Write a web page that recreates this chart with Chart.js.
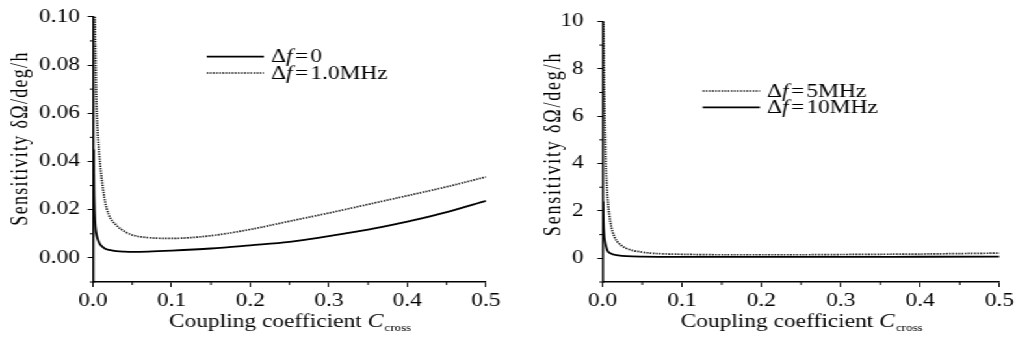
<!DOCTYPE html>
<html>
<head>
<meta charset="utf-8">
<script src="https://cdn.jsdelivr.net/npm/chart.js@4.4.1/dist/chart.umd.min.js"></script>
<style>
  html, body { margin: 0; padding: 0; background: #fff; overflow: hidden; }
  /* the source figure is stretched sideways, so draw narrow and widen */
  #wrap { position: absolute; left: 0; top: 0; width: 783px; height: 351px;
          display: flex; transform: scaleX(1.3001); transform-origin: 0 0; }
  canvas { display: block; }
</style>
</head>
<body>
<div id="wrap">
  <canvas id="left" width="392" height="351"></canvas>
  <canvas id="right" width="391" height="351"></canvas>
</div>
<script>
// coupling coefficient (x) and sensitivity (y)
const df0X = [0.0008, 0.001, 0.0015, 0.002, 0.003, 0.004, 0.006, 0.008, 0.01, 0.015, 0.02, 0.03, 0.04, 0.05, 0.07, 0.1, 0.15, 0.2, 0.25, 0.3, 0.35, 0.4, 0.45, 0.5];
const df0Y = [0.045, 0.036, 0.025, 0.019, 0.013, 0.0105, 0.0078, 0.0062, 0.0052, 0.0039, 0.0033, 0.0028, 0.0026, 0.0025, 0.0026, 0.0030, 0.0039, 0.0052, 0.0066, 0.0090, 0.0117, 0.0150, 0.0190, 0.0237];

const df1X = [0.0025, 0.003, 0.004, 0.006, 0.008, 0.01, 0.015, 0.02, 0.03, 0.04, 0.05, 0.07, 0.1, 0.15, 0.2, 0.25, 0.3, 0.35, 0.4, 0.45, 0.5];
const df1Y = [0.100, 0.088, 0.070, 0.052, 0.043, 0.036, 0.024, 0.018, 0.0135, 0.011, 0.0095, 0.0084, 0.0081, 0.0092, 0.0118, 0.0152, 0.0186, 0.0222, 0.0258, 0.0295, 0.0336];

const df5X = [0.0012, 0.002, 0.003, 0.004, 0.005, 0.007, 0.01, 0.015, 0.02, 0.03, 0.05, 0.075, 0.1, 0.15, 0.2, 0.25, 0.3, 0.35, 0.4, 0.45, 0.5];
const df5Y = [10, 7.5, 5.5, 4.2, 3.3, 2.3, 1.5, 0.9, 0.65, 0.42, 0.26, 0.19, 0.17, 0.15, 0.15, 0.15, 0.16, 0.17, 0.18, 0.2, 0.22];

const df10X = [0.0005, 0.001, 0.002, 0.003, 0.004, 0.006, 0.01, 0.015, 0.02, 0.03, 0.05, 0.1, 0.2, 0.3, 0.4, 0.5];
const df10Y = [2.4, 1.6, 0.95, 0.7, 0.55, 0.33, 0.21, 0.15, 0.12, 0.09, 0.07, 0.06, 0.06, 0.06, 0.065, 0.07];

const xTicks = [0, 0.1, 0.2, 0.3, 0.4, 0.5];
const leftYTicks = [0, 0.02, 0.04, 0.06, 0.08, 0.1];
const rightYTicks = [0, 2, 4, 6, 8, 10];

const yTitle = "Sensitivity δΩ/deg/h";
const serif = "'Liberation Serif', 'Times New Roman', serif";

function pts(xs, ys) {
    return xs.map((x, i) => ({ x: x, y: ys[i] }));
}

function solid(label, xs, ys) {
    return { label, data: pts(xs, ys), borderColor: "#000", borderWidth: 1.8,
             pointRadius: 0, cubicInterpolationMode: "monotone" };
}

function dotted(label, xs, ys) {
    return { label, data: pts(xs, ys), borderColor: "#111", borderWidth: 1.7,
             borderDash: [1.3, 1.1], pointRadius: 0, cubicInterpolationMode: "monotone" };
}

// draws "Δf=..." with an italic f and a little room round "="
function drawDelta(ctx, label, x, y) {
    const rest = label.split("=")[1];
    ctx.font = "18px " + serif;
    ctx.fillText("Δ", x, y);
    x += ctx.measureText("Δ").width;
    ctx.font = "italic 18px " + serif;
    ctx.fillText("f", x, y);
    x += ctx.measureText("f").width + 2;
    ctx.font = "18px " + serif;
    ctx.fillText("=", x, y);
    x += ctx.measureText("=").width + 1.5;
    ctx.fillText(rest, x, y);
}

const decor = {
    id: "decor",
    afterDraw(chart, args, o) {
        const ctx = chart.ctx, area = chart.chartArea;
        const xs = chart.scales.x, ys = chart.scales.y;
        ctx.save();
        ctx.strokeStyle = "#000";
        ctx.fillStyle = "#000";
        ctx.lineWidth = 1;

        // minor ticks halfway between the labelled ones
        ctx.beginPath();
        for (let i = 0; i < xTicks.length - 1; i++) {
            const px = xs.getPixelForValue((xTicks[i] + xTicks[i + 1]) / 2);
            ctx.moveTo(px, area.bottom);
            ctx.lineTo(px, area.bottom + 3);
        }
        const yt = o.yTicks;
        const step = yt[1] - yt[0];
        for (let i = -1; i < yt.length - 1; i++) {
            const py = ys.getPixelForValue(yt[0] + (i + 0.5) * step);
            ctx.moveTo(area.left, py);
            ctx.lineTo(area.left - 2.5, py);
        }
        ctx.stroke();

        // y axis title
        ctx.save();
        ctx.translate(o.yTitleX, o.yTitleY);
        ctx.rotate(-Math.PI / 2);
        ctx.font = "18px " + serif;
        ctx.letterSpacing = o.ySpacing + "px";
        ctx.textAlign = "center";
        ctx.textBaseline = "middle";
        ctx.fillText(yTitle, 0, 0);
        ctx.restore();

        // x axis title: Coupling coefficient C_cross
        ctx.textBaseline = "alphabetic";
        ctx.textAlign = "left";
        ctx.font = "18px " + serif;
        const a = "Coupling coefficient ";
        const wa = ctx.measureText(a).width;
        ctx.font = "italic 18px " + serif;
        const wc = ctx.measureText("C").width;
        ctx.font = "10px " + serif;
        const ws = ctx.measureText("cross").width;
        let tx = (area.left + area.right) / 2 - (wa + wc + ws) / 2;
        ctx.font = "18px " + serif;
        ctx.fillText(a, tx, 327);
        tx += wa;
        ctx.font = "italic 18px " + serif;
        ctx.fillText("C", tx, 327);
        tx += wc + 1;
        ctx.font = "10px " + serif;
        ctx.fillText("cross", tx, 331);

        // legend
        ctx.textBaseline = "middle";
        chart.data.datasets.forEach((ds, i) => {
            const y = o.legendY + i * 16.3;
            ctx.save();
            ctx.lineWidth = ds.borderWidth;
            ctx.strokeStyle = ds.borderColor;
            ctx.setLineDash(ds.borderDash || []);
            ctx.beginPath();
            ctx.moveTo(o.legendX, y);
            ctx.lineTo(o.legendX + 44, y);
            ctx.stroke();
            ctx.restore();
            drawDelta(ctx, ds.label, o.legendX + 49.5, y + 1);
        });
        ctx.restore();
    }
};

function makeChart(id, datasets, yMin, yMax, yTicks, fmt, padRight, padTop, yPad, deco) {
    return new Chart(document.getElementById(id), {
        type: "line",
        data: { datasets },
        plugins: [decor],
        options: {
            responsive: false,
            animation: false,
            layout: { padding: { left: 0, right: padRight, top: padTop, bottom: 0 } },
            plugins: { legend: { display: false }, tooltip: { enabled: false }, decor: deco },
            scales: {
                x: {
                    type: "linear", min: 0, max: 0.5,
                    afterBuildTicks: s => { s.ticks = xTicks.map(v => ({ value: v })); },
                    afterFit: s => { s.height = 69; },
                    ticks: { callback: v => v.toFixed(1), color: "#000", padding: 3,
                             maxRotation: 0, autoSkip: false, font: { family: serif, size: 18 } },
                    grid: { drawOnChartArea: false, tickLength: 5, color: "#000", lineWidth: 1 },
                    border: { color: "#000", width: 1.5 }
                },
                y: {
                    type: "linear", min: yMin, max: yMax,
                    afterBuildTicks: s => { s.ticks = yTicks.map(v => ({ value: v })); },
                    afterFit: s => { s.width = 71.5; },
                    ticks: { callback: fmt, color: "#000", padding: yPad,
                             font: { family: serif, size: 18 } },
                    grid: { drawOnChartArea: false, tickLength: 4, color: "#000", lineWidth: 1 },
                    border: { color: "#000", width: 1.5 }
                }
            }
        }
    });
}

makeChart("left",
    [solid("Δf=0", df0X, df0Y), dotted("Δf=1.0MHz", df1X, df1Y)],
    -0.01, 0.1, leftYTicks, v => v.toFixed(2), 18.2, 16, 6,
    { yTicks: leftYTicks, yTitleX: 16, yTitleY: 138.5, ySpacing: 1.3, legendX: 159, legendY: 56.7 });

makeChart("right",
    [dotted("Δf=5MHz", df5X, df5Y), solid("Δf=10MHz", df10X, df10Y)],
    -1, 10, rightYTicks, v => String(v), 11.8, 12, 10.6,
    { yTicks: rightYTicks, yTitleX: 34.6, yTitleY: 144, ySpacing: 1.8, legendX: 148.5, legendY: 91 });
</script>
</body>
</html>
